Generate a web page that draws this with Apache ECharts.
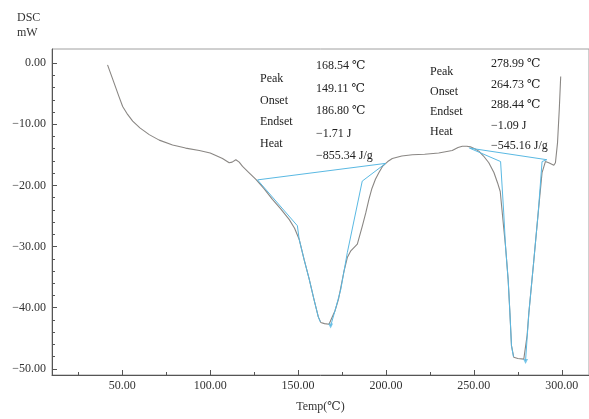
<!DOCTYPE html>
<html>
<head>
<meta charset="utf-8">
<script src="https://cdn.jsdelivr.net/npm/echarts@6/dist/echarts.min.js"></script>
<style>html,body{margin:0;padding:0;background:#fff;}#c{width:589px;height:419px;}</style>
</head>
<body>
<div id="c"></div>
<script>
// ---- data ----
var curveTemp = [41.6,43.5,45.5,48,50.2,53,55.9,60,65.3,71,78.6,86,93.8,100,103.2,107,110.8,112.5,114.6,116.5,118.4,122,126,130.5,135.4,140,145,148,150.6,153.4,156.3,159,161.5,162.9,165,167.6,168.5,171,173,176,178,180,183.7,186.5,188.5,190.3,192,194,196,198,201,203.6,209,215,222,230,237.7,241,243.4,246,248,250.5,252.8,255.5,258.5,261.4,263.5,265,266,267,268,269.5,270.5,271.4,272.7,275,278.4,279.4,280.3,281.3,284,286.6,288.8,290.7,292.6,295.5,296.4,297.6,298.6,299.4];
var curveDSC  = [-0.3,-1.8,-3.4,-5.4,-7.1,-8.4,-9.5,-10.6,-11.7,-12.6,-13.4,-13.9,-14.3,-14.7,-15.1,-15.6,-16.3,-16.2,-15.8,-16.2,-16.9,-17.9,-19.0,-20.5,-22.3,-23.8,-25.6,-27.0,-28.8,-32.1,-35.3,-38.6,-41.5,-42.4,-42.6,-42.7,-43.0,-40.5,-38.6,-34.2,-31.8,-30.7,-29.6,-26.7,-24.5,-22.3,-20.5,-19.0,-17.9,-16.9,-16.1,-15.6,-15.2,-15.0,-14.9,-14.7,-14.3,-13.8,-13.6,-13.6,-13.7,-14.0,-14.4,-15.2,-16.3,-17.9,-19.6,-21.0,-24.0,-27.0,-29.9,-35.4,-40.8,-46.2,-48.1,-48.3,-48.4,-48.7,-44.5,-40.8,-32.6,-24.5,-17.9,-16.1,-16.3,-16.7,-16.3,-13.0,-7.5,-2.2];

// peak 1 analysis lines
var p1BaseTemp = [126.9, 199.8];
var p1BaseDSC  = [-19.1, -16.4];
var p1LeftTemp = [126.9, 149.6, 150.6, 153.4, 156.3, 159, 161.5, 162.6];
var p1LeftDSC  = [-19.1, -26.6, -28.8, -32.1, -35.3, -38.6, -41.5, -42.3];
var p1RightTemp = [168.5, 171, 174.3, 178, 186.5, 199.8];
var p1RightDSC  = [-43.0, -40.5, -37.0, -31.0, -19.3, -16.4];

// peak 2 analysis lines
var p2BaseTemp = [247.5, 291.5];
var p2BaseDSC  = [-13.9, -15.8];
var p2LeftTemp = [247.5, 265.2, 267, 268, 269.5, 270.5, 271.4, 272.5];
var p2LeftDSC  = [-13.9, -16.1, -24.5, -29.9, -35.4, -40.8, -46.2, -48.0];
var p2RightTemp = [279.4, 281.3, 284, 286.6, 288.8, 291.5];
var p2RightDSC  = [-48.7, -40.8, -32.6, -24.5, -16.1, -15.8];

var peakTemp = [168.5, 279.4];
var peakDSC  = [-43.0, -48.8];

var xMajorTicks = [50, 100, 150, 200, 250, 300];
var xMinorTicks = [25, 75, 125, 175, 225, 275];
var yMajorTicks = [0, -10, -20, -30, -40, -50];
var yMinorTicks = [-2,-4,-6,-8,-12,-14,-16,-18,-22,-24,-26,-28,-32,-34,-36,-38,-42,-44,-46,-48];

var ann1Labels = ['Peak', 'Onset', 'Endset', 'Heat'];
var ann1Values = ['168.54 ℃', '149.11 ℃', '186.80 ℃', '−1.71 J', '−855.34 J/g'];
var ann2Labels = ['Peak', 'Onset', 'Endset', 'Heat'];
var ann2Values = ['278.99 ℃', '264.73 ℃', '288.44 ℃', '−1.09 J', '−545.16 J/g'];

function zip(a, b) { return a.map(function (v, i) { return [v, b[i]]; }); }
function fmt(v) { var s = Math.abs(v).toFixed(2); return v < 0 ? '−' + s : s; }

var FONT = '"Liberation Serif", "DejaVu Serif", serif';
var GRAY = '#8a8784';
var BLUE = '#5ab9e3';
var AX = '#555';

var graphics = [
  {type: 'text', left: 17, top: 12, style: {text: 'DSC', font: '12px ' + FONT, fill: '#333'}},
  {type: 'text', left: 17, top: 27, style: {text: 'mW', font: '12px ' + FONT, fill: '#333'}}
];
ann1Labels.forEach(function (t, i) {
  graphics.push({type: 'text', left: 260, top: 73 + i * 21.5, style: {text: t, font: '12px ' + FONT, fill: '#222'}});
});
ann1Values.forEach(function (t, i) {
  graphics.push({type: 'text', left: 316, top: 60 + i * 22.5, style: {text: t, font: '12px ' + FONT, fill: '#222'}});
});
ann2Labels.forEach(function (t, i) {
  graphics.push({type: 'text', left: 430, top: 66 + i * 20, style: {text: t, font: '12px ' + FONT, fill: '#222'}});
});
ann2Values.forEach(function (t, i) {
  graphics.push({type: 'text', left: 491, top: 58 + i * 20.5, style: {text: t, font: '12px ' + FONT, fill: '#222'}});
});

var chart = echarts.init(document.getElementById('c'));
var xMin = 10, xMax = 315.5, yMin = -51, yMax = 2.3;
function lineSeries(t, d, color, w, z) {
  return {type: 'line', data: zip(t, d), showSymbol: false, symbol: 'none', smooth: false,
          lineStyle: {color: color, width: w}, z: z, animation: false, silent: true};
}
chart.setOption({
  animation: false,
  backgroundColor: '#fff',
  grid: {left: 52, right: -1, top: 49, bottom: 44, show: true, borderColor: '#a0a0a0', borderWidth: 1, containLabel: false},
  graphic: graphics,
  xAxis: [{
    type: 'value', min: xMin, max: xMax,
    name: 'Temp(℃)', nameLocation: 'middle', nameGap: 26,
    nameTextStyle: {fontFamily: FONT, fontSize: 12, color: '#333'},
    axisLine: {show: true, onZero: false, lineStyle: {color: AX, width: 1}},
    axisTick: {show: true, inside: true, length: 5, customValues: xMajorTicks, lineStyle: {color: AX}},
    axisLabel: {show: true, customValues: xMajorTicks, formatter: fmt, fontFamily: FONT, fontSize: 12, color: '#333', margin: 5},
    splitLine: {show: false}
  }, {
    type: 'value', min: xMin, max: xMax, position: 'bottom',
    axisLine: {show: false, onZero: false},
    axisTick: {show: true, inside: true, length: 3, customValues: xMinorTicks, lineStyle: {color: AX}},
    axisLabel: {show: false}, splitLine: {show: false}
  }],
  yAxis: [{
    type: 'value', min: yMin, max: yMax,
    axisLine: {show: true, onZero: false, lineStyle: {color: AX, width: 1}},
    axisTick: {show: true, inside: true, length: 5, customValues: yMajorTicks, lineStyle: {color: AX}},
    axisLabel: {show: true, customValues: yMajorTicks, formatter: fmt, fontFamily: FONT, fontSize: 12, color: '#333', margin: 6},
    splitLine: {show: false}
  }, {
    type: 'value', min: yMin, max: yMax, position: 'left',
    axisLine: {show: false, onZero: false},
    axisTick: {show: true, inside: true, length: 3, customValues: yMinorTicks, lineStyle: {color: AX}},
    axisLabel: {show: false}, splitLine: {show: false}
  }],
  series: [
    lineSeries(curveTemp, curveDSC, GRAY, 1.1, 2),
    lineSeries(p1BaseTemp, p1BaseDSC, BLUE, 1, 3),
    lineSeries(p1LeftTemp, p1LeftDSC, BLUE, 1, 3),
    lineSeries(p1RightTemp, p1RightDSC, BLUE, 1, 3),
    lineSeries(p2BaseTemp, p2BaseDSC, BLUE, 1, 3),
    lineSeries(p2LeftTemp, p2LeftDSC, BLUE, 1, 3),
    lineSeries(p2RightTemp, p2RightDSC, BLUE, 1, 3),
    {type: 'scatter', data: zip(peakTemp, peakDSC), symbol: 'triangle', symbolRotate: 180, symbolSize: 5,
     itemStyle: {color: BLUE}, z: 4, silent: true}
  ]
});
</script>
</body>
</html>
